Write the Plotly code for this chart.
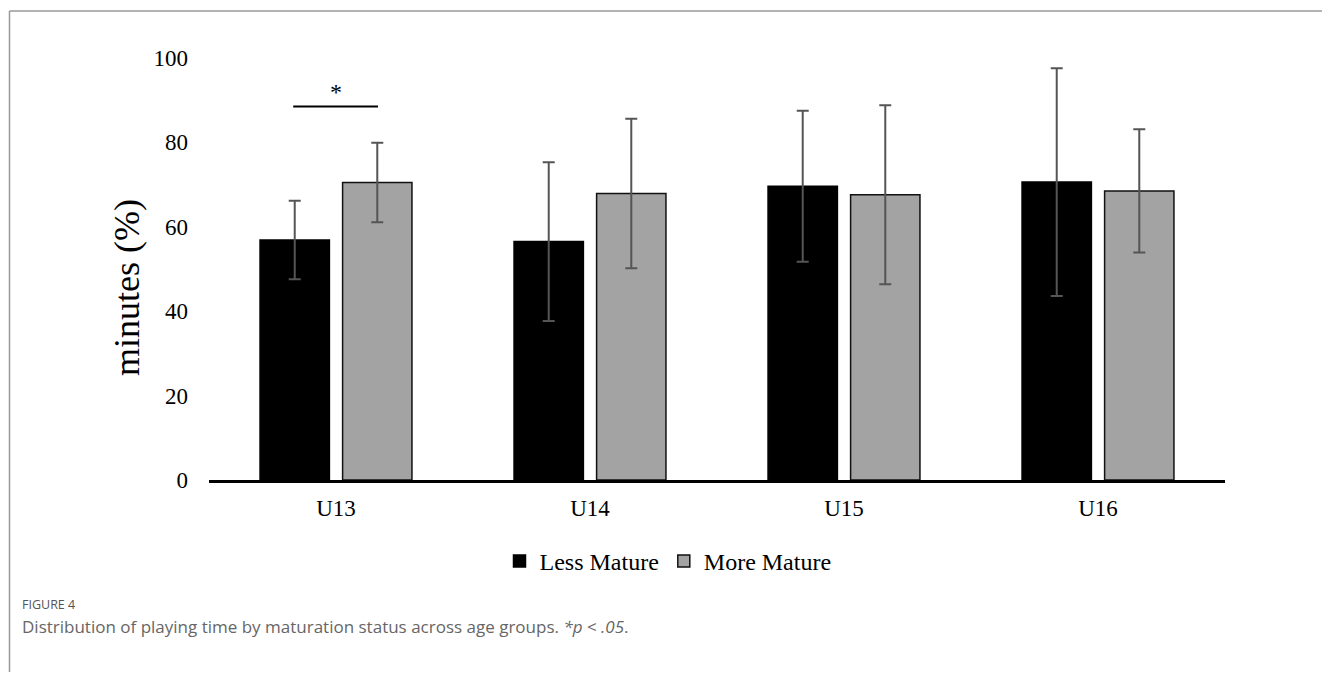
import plotly.graph_objects as go

# Age groups and playing-time data (mean ± SD, % of minutes played)
age_groups = ["U13", "U14", "U15", "U16"]
less_mature_mean = [56.9, 56.5, 69.6, 70.6]
less_mature_sd = [9.3, 18.8, 17.9, 27.0]
more_mature_mean = [70.5, 67.9, 67.6, 68.5]
more_mature_sd = [9.4, 17.7, 21.2, 14.6]
y_ticks = [0, 20, 40, 60, 80, 100]

# significance marker between U13 groups
sig_level = 88.5
sig_label = "*"

W, H = 1322, 673
L, R, T, B = 209, 97, 57.5, 192.5
PW, PH = W - L - R, H - T - B
BARGAP, GROUPGAP = 0.35, 0.16


def px_x(px):
    return (px - L) / PW


def px_y(py):
    return (H - B - py) / PH


serif = "Liberation Serif, Times New Roman, serif"
err_style = dict(type="data", thickness=2, width=6, color="#555555")

fig = go.Figure()
fig.add_trace(go.Bar(
    name="Less Mature", x=age_groups, y=less_mature_mean,
    error_y=dict(array=less_mature_sd, **err_style),
    marker=dict(color="#000000", line=dict(color="#000000", width=1.5)),
))
fig.add_trace(go.Bar(
    name="More Mature", x=age_groups, y=more_mature_mean,
    error_y=dict(array=more_mature_sd, **err_style),
    marker=dict(color="#a3a3a3", line=dict(color="#111111", width=1.5)),
))

# bar centre offset within a category (grouped bars)
half = (1 - BARGAP) / 4
fig.add_shape(type="line", xref="x", yref="y",
              x0=0 - half - 0.006, x1=0 + half + 0.003,
              y0=sig_level, y1=sig_level,
              line=dict(color="#000000", width=2))
fig.add_annotation(x=0, y=sig_level, xref="x", yref="y", text=sig_label,
                   showarrow=False, yanchor="bottom",
                   font=dict(family=serif, size=24, color="#000000"))

# y-axis title
fig.add_annotation(x=px_x(127), y=px_y(288), xref="paper", yref="paper",
                   text="minutes (%)", textangle=-90, showarrow=False,
                   xanchor="center", yanchor="middle",
                   font=dict(family=serif, size=36, color="#000000"))

# figure caption
fig.add_annotation(x=px_x(20), y=px_y(605), xref="paper", yref="paper",
                   text="FIGURE 4", showarrow=False, xanchor="left", yanchor="middle",
                   font=dict(family="Open Sans, sans-serif", size=12.5, color="#555555"))
fig.add_annotation(x=px_x(20), y=px_y(627), xref="paper", yref="paper",
                   text="Distribution of playing time by maturation status across age groups. "
                        "<i>*p</i> < <i>.05</i>.",
                   showarrow=False, xanchor="left", yanchor="middle",
                   font=dict(family="Open Sans, sans-serif", size=17, color="#666666"))

# panel frame (top and left edges)
frame = dict(color="#999999", width=1.5)
fig.add_shape(type="line", xref="paper", yref="paper",
              x0=px_x(9.5), x1=px_x(W), y0=px_y(10.5), y1=px_y(10.5), line=frame)
fig.add_shape(type="line", xref="paper", yref="paper",
              x0=px_x(9.5), x1=px_x(9.5), y0=px_y(10.5), y1=px_y(H), line=frame)

fig.update_layout(
    width=W, height=H,
    margin=dict(l=L, r=R, t=T, b=B),
    paper_bgcolor="#ffffff", plot_bgcolor="#ffffff",
    barmode="group", bargap=BARGAP, bargroupgap=GROUPGAP,
    font=dict(family=serif, size=23, color="#000000"),
    showlegend=True,
    legend=dict(orientation="h", x=px_x(668), xanchor="center", y=px_y(562), yanchor="middle",
                font=dict(family=serif, size=24, color="#000000"),
                itemwidth=30, bgcolor="rgba(0,0,0,0)", traceorder="normal"),
    xaxis=dict(showline=True, linecolor="#000000", linewidth=2.5, ticks="",
               showgrid=False, zeroline=False, ticklabelstandoff=6,
               tickfont=dict(family=serif, size=23, color="#000000")),
    yaxis=dict(range=[0, 100], tickvals=y_ticks, showline=False, showgrid=False,
               zeroline=False, ticks="", ticklabelstandoff=20,
               tickfont=dict(family=serif, size=23, color="#000000")),
)

fig.write_html("out.html")
